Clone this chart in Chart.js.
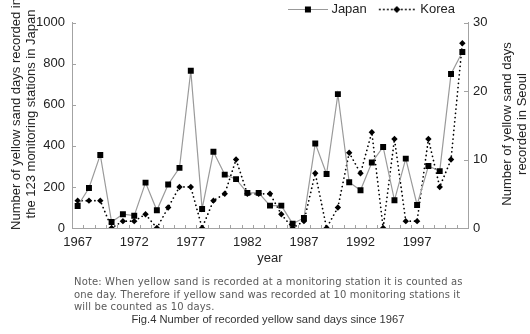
<!DOCTYPE html>
<html><head><meta charset="utf-8">
<script src="https://cdn.jsdelivr.net/npm/chart.js@4/dist/chart.umd.min.js"></script>
<style>
html,body{margin:0;padding:0;background:#fff;}
#wrap{position:relative;width:530px;height:334px;overflow:hidden;background:#fff;}
#c{position:absolute;left:0;top:0;}
.yt{position:absolute;width:280px;height:30px;font-family:"Liberation Sans",Arial,sans-serif;font-size:13px;line-height:15px;color:#222;text-align:center;white-space:nowrap;transform:rotate(-90deg);transform-origin:50% 50%;}
#note{position:absolute;left:74px;top:276px;font-family:"DejaVu Sans",Verdana,sans-serif;font-size:10px;letter-spacing:0.15px;line-height:12.5px;color:#5a5a5a;white-space:nowrap;}
#cap{position:absolute;left:0;width:536px;top:312px;text-align:center;font-family:"Liberation Sans",Arial,sans-serif;font-size:11.2px;line-height:14px;color:#333;white-space:nowrap;}
</style>
</head><body>
<div id="wrap">
<canvas id="c" width="530" height="334"></canvas>
<div class="yt" style="left:-117.5px;top:99px;">Number of yellow sand days recorded in<br>the 123 monitoring stations in Japan</div>
<div class="yt" style="left:374px;top:109px;">Number of yellow sand days<br>recorded in Seoul</div>
<div id="note">Note: When yellow sand is recorded at a monitoring station it is counted as<br>one day. Therefore if yellow sand was recorded at 10 monitoring stations it<br>will be counted as 10 days.</div>
<div id="cap">Fig.4 Number of recorded yellow sand days since 1967</div>
</div>
<script>
const years = ['1967','1968','1969','1970','1971','1972','1973','1974','1975','1976','1977','1978','1979','1980','1981','1982','1983','1984','1985','1986','1987','1988','1989','1990','1991','1992','1993','1994','1995','1996','1997','1998','1999','2000','2001'];
const japanDays = [107,195,356,29,67,60,221,86,212,293,766,93,371,260,238,171,171,109,109,21,49,412,263,652,223,184,319,395,135,338,112,302,277,750,857];
const koreaDays = [4,4,4,0,1,1,2,0,3,6,6,0,4,5,10,5,5,5,2,0,1,8,0,3,11,8,14,0,13,1,1,13,6,10,27];
const shownYearLabels = ['1967','1972','1977','1982','1987','1992','1997'];
const leftTicks = [0,200,400,600,800,1000];
const rightTicks = [0,10,20,30];

const AXIS = '#a3a3a3';
const TXT = '#222';
const FONT = "'Liberation Sans', Arial, sans-serif";

function legendImg(kind){
  const cv = document.createElement('canvas');
  cv.width = 40; cv.height = 10;
  const g = cv.getContext('2d');
  if (kind === 'japan') {
    g.strokeStyle = '#999'; g.lineWidth = 1.2;
    g.beginPath(); g.moveTo(0,5.5); g.lineTo(40,5.5); g.stroke();
    g.fillStyle = '#000'; g.fillRect(17,2.5,6,6);
  } else {
    g.fillStyle = '#000';
    for (const x of [3,7,11,15,25,29,33,37]) { g.beginPath(); g.arc(x,5.5,0.9,0,Math.PI*2); g.fill(); }
    g.beginPath(); g.moveTo(20,2); g.lineTo(23.5,5.5); g.lineTo(20,9); g.lineTo(16.5,5.5); g.closePath(); g.fill();
  }
  return cv;
}
const legendImgs = [legendImg('japan'), legendImg('korea')];

const inwardTicks = {
  id: 'inwardTicks',
  beforeDatasetsDraw(chart){
    const {ctx} = chart; const x = chart.scales.x, y = chart.scales.y, y2 = chart.scales.y2;
    ctx.save(); ctx.strokeStyle = AXIS; ctx.lineWidth = 1; ctx.beginPath();
    for (let i = 0; i <= years.length; i++) {
      const px = Math.round(x.getPixelForValue(i - 0.5)) + 0.5;
      ctx.moveTo(px, x.top); ctx.lineTo(px, x.top - 3);
    }
    for (const t of y.ticks) {
      const py = Math.round(y.getPixelForValue(t.value)) + 0.5;
      ctx.moveTo(y.right, py); ctx.lineTo(y.right + 4, py);
    }
    for (const t of y2.ticks) {
      const py = Math.round(y2.getPixelForValue(t.value)) + 0.5;
      ctx.moveTo(y2.left, py); ctx.lineTo(y2.left - 4, py);
    }
    ctx.stroke(); ctx.restore();
  }
};

new Chart(document.getElementById('c'), {
  type: 'line',
  data: {
    labels: years,
    datasets: [
      { label: 'Japan', data: japanDays, yAxisID: 'y', borderColor: '#9a9a9a', borderWidth: 1.2,
        pointStyle: 'rect', pointRadius: 4.2, pointBackgroundColor: '#000', pointBorderColor: '#000', pointBorderWidth: 0,
        tension: 0, fill: false },
      { label: 'Korea', data: koreaDays, yAxisID: 'y2', borderColor: '#000', borderWidth: 1.7,
        borderDash: [0.1, 4.2], borderCapStyle: 'round',
        pointStyle: 'rectRot', pointRadius: 3.2, pointBackgroundColor: '#000', pointBorderColor: '#000', pointBorderWidth: 0,
        tension: 0, fill: false }
    ]
  },
  options: {
    responsive: false, animation: false, devicePixelRatio: 1,
    layout: { padding: { top: -10.5, bottom: 68, left: 0, right: 0 } },
    plugins: {
      tooltip: { enabled: false },
      legend: {
        position: 'top', align: 'end', fullSize: false, maxHeight: 33.2,
        labels: {
          usePointStyle: true, pointStyleWidth: 34, padding: 13, color: TXT,
          font: { family: FONT, size: 13 },
          generateLabels(chart){
            return Chart.defaults.plugins.legend.labels.generateLabels(chart).map((l, i) => Object.assign(l, { pointStyle: legendImgs[l.datasetIndex] }));
          }
        }
      }
    },
    scales: {
      x: {
        type: 'category', offset: true,
        afterFit(s){ s.height = 38; },
        grid: { display: false, drawTicks: false, offset: true },
        border: { display: true, color: AXIS, width: 1 },
        ticks: { autoSkip: false, maxRotation: 0, padding: 7, color: TXT, font: { family: FONT, size: 13 },
          callback(v, i){ return shownYearLabels.includes(years[i]) ? years[i] : ''; } },
        title: { display: true, text: 'year', color: TXT, font: { family: FONT, size: 13 }, padding: { top: 0, bottom: 0 } }
      },
      y: {
        position: 'left', min: 0, max: 1000,
        afterFit(s){ s.width = 72; },
        afterBuildTicks(s){ s.ticks = leftTicks.map(v => ({ value: v })); },
        grid: { display: false, drawTicks: false },
        border: { display: true, color: AXIS, width: 1 },
        ticks: { padding: 7, color: TXT, font: { family: FONT, size: 13 }, callback(v){ return String(v); } }
      },
      y2: {
        position: 'right', min: 0, max: 30,
        afterFit(s){ s.width = 62; },
        afterBuildTicks(s){ s.ticks = rightTicks.map(v => ({ value: v })); },
        grid: { display: false, drawTicks: false },
        border: { display: true, color: AXIS, width: 1 },
        ticks: { padding: 5, color: TXT, font: { family: FONT, size: 13 }, callback(v){ return String(v); } }
      }
    }
  },
  plugins: [inwardTicks]
});
</script>
</body></html>
